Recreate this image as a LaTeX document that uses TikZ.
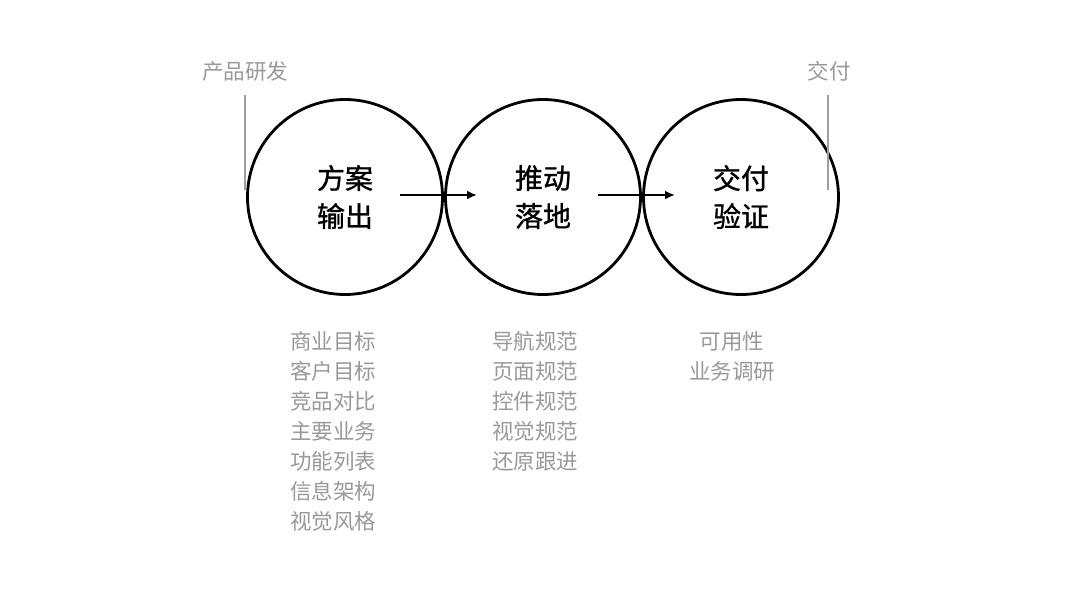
\documentclass[tikz,border=0pt]{standalone}
\usepackage{fontspec}
\setmainfont{Noto Sans CJK SC}
\newfontfamily\cjkb[FakeBold=1.1]{Noto Sans CJK SC}
\usetikzlibrary{arrows.meta}
\begin{document}
\begin{tikzpicture}[x=1pt,y=-1pt,
  circ/.style={circle,draw=black,line width=2.8pt,minimum size=195pt,inner sep=0pt,align=center,font=\fontsize{28}{38}\selectfont\cjkb},
  lst/.style={text=gray!80,align=center,font=\fontsize{21.5}{30}\selectfont,anchor=north},
  gl/.style={gray!75,line width=1.2pt},
  arr/.style={-{Latex[length=10pt,width=9pt]},line width=2pt}]
\useasboundingbox (0,0) rectangle (1080,608);
\node[circ] (c1) at (345,197) {方案\\输出};
\node[circ] (c2) at (543,197) {推动\\落地};
\node[circ] (c3) at (741,197) {交付\\验证};
\coordinate (a1) at (400,195); \coordinate (b1) at (477,195);
\coordinate (a2) at (598,195); \coordinate (b2) at (675,195);
\draw[arr] (a1) -- (b1);
\draw[arr] (a2) -- (b2);
\node[text=gray!80,font=\fontsize{21.5}{24}\selectfont] (l) at (245,71) {产品研发};
\node[text=gray!80,font=\fontsize{21.5}{24}\selectfont] (r) at (829,71) {交付};
\coordinate (lt) at (245,95); \coordinate (lb) at (245,190);
\coordinate (rt) at (828,95); \coordinate (rb) at (828,190);
\draw[gl] (lt) -- (lb);
\draw[gl] (rt) -- (rb);
\node[lst] (t1) at (333,328) {商业目标\\客户目标\\竞品对比\\主要业务\\功能列表\\信息架构\\视觉风格};
\node[lst] (t2) at (535,328) {导航规范\\页面规范\\控件规范\\视觉规范\\还原跟进};
\node[lst] (t3) at (732,328) {可用性\\业务调研};
\end{tikzpicture}
\end{document}
